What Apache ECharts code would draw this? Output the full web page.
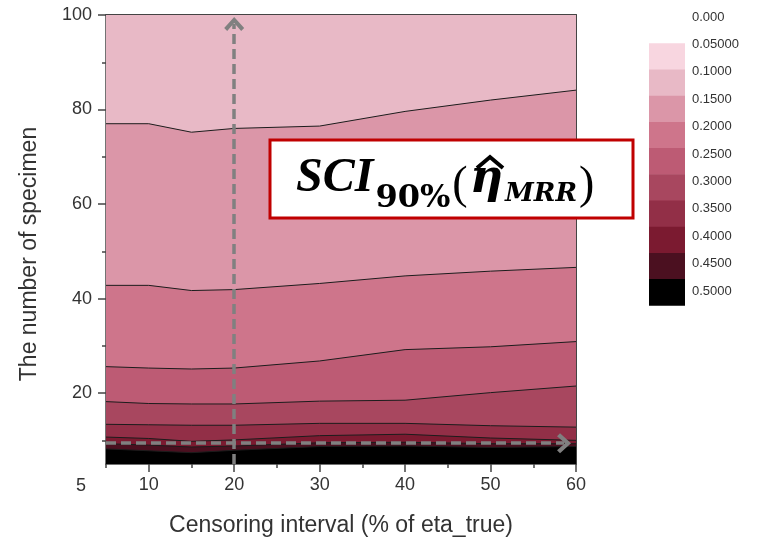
<!DOCTYPE html>
<html>
<head>
<meta charset="utf-8">
<script src="https://cdn.jsdelivr.net/npm/echarts@6/dist/echarts.min.js"></script>
<style>
  html, body { margin: 0; padding: 0; background: #ffffff; }
  #chart { width: 757px; height: 538px; }
</style>
</head>
<body>
<div id="chart"></div>
<script>
// Censoring interval (% of eta_true) at which the contours are sampled
const censoring = [5, 10, 15, 20, 30, 40, 50, 60];

// Number of specimens at which SCI_90%(eta_MRR) crosses each contour level
const nAt015 = [77.0, 77.0, 75.2, 76.0, 76.5, 79.6, 82.0, 84.1];
const nAt020 = [42.8, 42.8, 41.7, 41.9, 43.2, 44.8, 45.8, 46.6];
const nAt025 = [25.6, 25.3, 25.1, 25.3, 26.8, 29.2, 29.8, 30.9];
const nAt030 = [18.2, 17.8, 17.7, 17.7, 18.3, 18.5, 20.1, 21.5];
const nAt035 = [13.4, 13.3, 13.2, 13.2, 13.6, 13.6, 13.1, 12.8];
const nAt040 = [10.7, 10.4, 9.8, 10.1, 11.0, 11.3, 10.5, 10.0];
const nAt045 = [9.3, 9.0, 8.6, 8.8, 9.5, 9.6, 9.3, 9.3];
const nAt050 = [8.2, 7.8, 7.4, 7.9, 8.7, 8.8, 8.5, 8.7];

// Colour scale (one swatch per 0.05 band) and its labels
const levelColors = ['#f8d6e0', '#e8b9c6', '#db96a8', '#ce758b', '#bd5b74',
                     '#a8475f', '#922f47', '#7b1a30', '#4b1020', '#000000'];
const levelLabels = ['0.000', '0.05000', '0.1000', '0.1500', '0.2000', '0.2500',
                     '0.3000', '0.3500', '0.4000', '0.4500', '0.5000'];

// Axis ranges and tick values
const xRange = [5, 60];
const yRange = [5, 100];
const xMajorTicks = [10, 20, 30, 40, 50, 60];
const xMinorTicks = [5, 15, 25, 35, 45, 55];
const yMajorTicks = [20, 40, 60, 80, 100];
const yMinorTicks = [10, 30, 50, 70, 90];
const cornerLabel = '5';

// Guide arrows: vertical at 20 %, horizontal at n ≈ 9.4
const guideX = 20;
const guideY = 9.4;
const guideXEnd = 58.6;
const guideYEnd = 98.1;

const boundaries = [nAt015, nAt020, nAt025, nAt030, nAt035, nAt040, nAt045, nAt050];

const FONT = '"Liberation Sans", Arial, sans-serif';
const SERIF = '"Liberation Serif", "DejaVu Serif", serif';
const WIDE_SERIF = '"DejaVu Serif", serif';
const TEXT = '#333333';
const FRAME = '#444444';

const chart = echarts.init(document.getElementById('chart'), null, { renderer: 'canvas' });

const series = [];
// Uppermost band: fill from the top of the axis down
series.push({
  type: 'line',
  data: censoring.map(x => [x, yRange[1]]),
  symbol: 'none',
  silent: true,
  lineStyle: { width: 0 },
  areaStyle: { color: levelColors[1], opacity: 1, origin: 'start' }
});
// Each contour line fills the band beneath it
boundaries.forEach((b, i) => {
  series.push({
    type: 'line',
    data: censoring.map((x, j) => [x, b[j]]),
    symbol: 'none',
    silent: true,
    lineStyle: { color: '#1c1c1c', width: 1 },
    areaStyle: { color: levelColors[i + 2], opacity: 1, origin: 'start' }
  });
});
// Dashed guide arrows
const chevron = 'path://M10,0 L20,11 L17,14 L10,6 L3,14 L0,11 Z';
series.push({
  type: 'line',
  data: [],
  silent: true,
  markLine: {
    silent: true,
    animation: false,
    symbol: ['none', chevron],
    symbolSize: [20, 14],
    label: { show: false },
    lineStyle: { color: '#808080', width: 3.5, type: [10, 5], opacity: 1 },
    emphasis: { disabled: true },
    data: [
      [{ coord: [guideX, yRange[0]] }, { coord: [guideX, guideYEnd] }],
      [{ coord: [xRange[0], guideY] }, { coord: [guideXEnd, guideY] }]
    ]
  }
});

// Colour scale swatches and labels
const graphics = [];
const swX = 649, swTop = 43.3, swW = 36, swH = 26.2;
levelColors.forEach((c, i) => {
  graphics.push({
    type: 'rect', silent: true,
    shape: { x: swX, y: swTop + i * swH, width: swW, height: swH + 0.5 },
    style: { fill: c }
  });
});
levelLabels.forEach((t, i) => {
  graphics.push({
    type: 'text', silent: true,
    x: 692, y: 17 + i * 27.4,
    style: { text: t, fill: TEXT, font: '13px ' + FONT, verticalAlign: 'middle', align: 'left' }
  });
});
// Corner label under the origin
graphics.push({
  type: 'text', silent: true,
  x: 81, y: 486,
  style: { text: cornerLabel, fill: TEXT, font: '18px ' + FONT, align: 'center', verticalAlign: 'middle' }
});
// Y axis title
graphics.push({
  type: 'text', silent: true,
  x: 30, y: 254, rotation: Math.PI / 2,
  style: { text: 'The number of specimen', fill: TEXT, font: '23px ' + FONT, align: 'center', verticalAlign: 'middle' }
});
// Quantity title box
graphics.push({
  type: 'rect', silent: true, z: 100,
  shape: { x: 270, y: 140, width: 363, height: 78 },
  style: { fill: '#ffffff', stroke: '#c00000', lineWidth: 3 }
});
graphics.push({
  type: 'text', silent: true, z: 101,
  x: 296, y: 167,
  style: {
    text: '{m|SCI}{s|90%}{p|(}{e|η}{r|MRR}{p|)}',
    align: 'left', verticalAlign: 'top',
    rich: {
      m: { font: 'italic bold 48px ' + SERIF, fill: '#000', lineHeight: 48, padding: [0, 0, 12, 0], verticalAlign: 'bottom' },
      e: { font: 'italic bold 46px ' + WIDE_SERIF, fill: '#000', lineHeight: 48, padding: [0, 0, 12, 0], verticalAlign: 'bottom' },
      p: { font: '46px ' + SERIF, fill: '#000', lineHeight: 46, padding: [0, 2, 6, 2], verticalAlign: 'bottom' },
      s: { font: 'bold 32px ' + WIDE_SERIF, fill: '#000', lineHeight: 32, padding: [0, 0, 0, 2], verticalAlign: 'bottom' },
      r: { font: 'italic bold 26px ' + WIDE_SERIF, fill: '#000', lineHeight: 26, padding: [0, 0, 8, 2], verticalAlign: 'bottom' }
    }
  }
});
// Hat accent over eta
graphics.push({
  type: 'polyline', silent: true, z: 102,
  shape: { points: [[477, 168], [490, 157], [503, 168]] },
  style: { stroke: '#000', lineWidth: 4, fill: null, lineJoin: 'miter' }
});

const axisTextStyle = { color: TEXT, fontFamily: FONT, fontSize: 18 };

const option = {
  animation: false,
  backgroundColor: '#ffffff',
  grid: { left: 106, right: 181, top: 15, bottom: 74, containLabel: false, outerBoundsMode: 'none' },
  xAxis: [
    {
      type: 'value', min: xRange[0], max: xRange[1], position: 'bottom',
      name: 'Censoring interval (% of eta_true)',
      nameLocation: 'middle', nameGap: 50,
      nameTextStyle: { color: TEXT, fontFamily: FONT, fontSize: 23 },
      axisLine: { show: true, onZero: false, lineStyle: { color: FRAME, width: 1.5 } },
      axisTick: { show: true, customValues: xMajorTicks, length: 8, lineStyle: { color: FRAME, width: 1.5 } },
      axisLabel: { show: true, customValues: xMajorTicks, margin: 12, ...axisTextStyle },
      splitLine: { show: false }
    },
    {
      type: 'value', min: xRange[0], max: xRange[1], position: 'bottom',
      axisLine: { show: false },
      axisTick: { show: true, customValues: xMinorTicks, length: 4, lineStyle: { color: FRAME, width: 1.5 } },
      axisLabel: { show: false },
      splitLine: { show: false }
    },
    {
      type: 'value', min: xRange[0], max: xRange[1], position: 'top',
      axisLine: { show: true, onZero: false, lineStyle: { color: FRAME, width: 2 } },
      axisTick: { show: false }, axisLabel: { show: false }, splitLine: { show: false }
    }
  ],
  yAxis: [
    {
      type: 'value', min: yRange[0], max: yRange[1], position: 'left',
      axisLine: { show: true, onZero: false, lineStyle: { color: FRAME, width: 1.5 } },
      axisTick: { show: true, customValues: yMajorTicks, length: 8, lineStyle: { color: FRAME, width: 1.5 } },
      axisLabel: { show: true, customValues: yMajorTicks, margin: 14, ...axisTextStyle },
      splitLine: { show: false }
    },
    {
      type: 'value', min: yRange[0], max: yRange[1], position: 'left',
      axisLine: { show: false },
      axisTick: { show: true, customValues: yMinorTicks, length: 4, lineStyle: { color: FRAME, width: 1.5 } },
      axisLabel: { show: false },
      splitLine: { show: false }
    },
    {
      type: 'value', min: yRange[0], max: yRange[1], position: 'right',
      axisLine: { show: true, onZero: false, lineStyle: { color: FRAME, width: 2 } },
      axisTick: { show: false }, axisLabel: { show: false }, splitLine: { show: false }
    }
  ],
  series: series,
  graphic: graphics
};

chart.setOption(option);
</script>
</body>
</html>
